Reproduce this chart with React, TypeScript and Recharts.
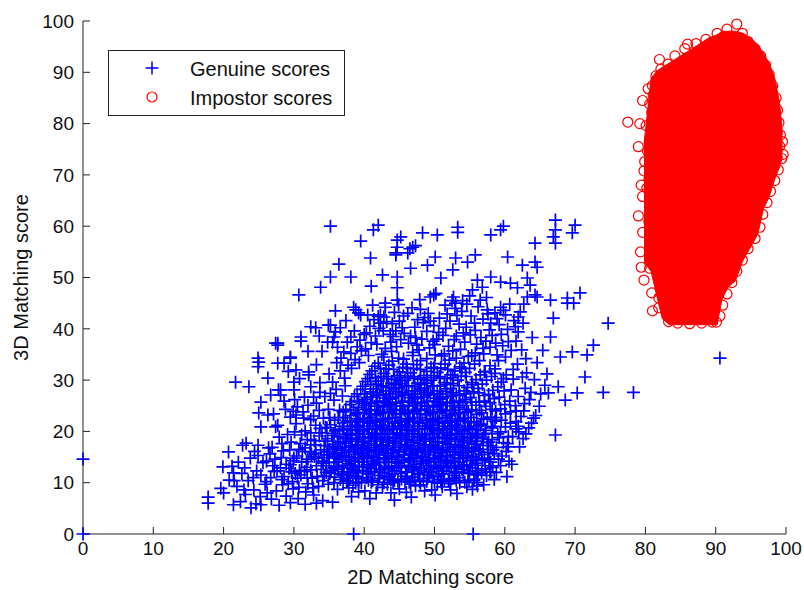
import { ComposedChart, Scatter, Area, XAxis, YAxis, Legend } from 'recharts';

const FONT = '"Liberation Sans", Arial, Helvetica, sans-serif';

const xTicks = [0, 10, 20, 30, 40, 50, 60, 70, 80, 90, 100];
const yTicks = [0, 10, 20, 30, 40, 50, 60, 70, 80, 90, 100];

// genuine scores, sparse points read one by one
const genuineSparse: [number, number][] = [
  [35.2, 60.0], [42.0, 60.2], [41.3, 59.3], [39.5, 57.1], [44.7, 57.3], [36.4, 52.6], [35.2, 50.1], [38.1, 50.1],
  [33.8, 48.1], [30.7, 46.6], [40.9, 53.8], [42.6, 50.5], [41.0, 48.3], [44.5, 54.8], [44.7, 50.1],
  [45.2, 57.9], [48.3, 58.7], [50.4, 58.3], [53.3, 59.8], [53.3, 58.8], [58.0, 58.3], [59.4, 59.3], [59.8, 60.0],
  [67.2, 61.2], [67.2, 59.3], [66.9, 57.9], [70.0, 60.2], [69.6, 58.7], [67.2, 56.7], [64.3, 56.7], [46.9, 55.9],
  [47.3, 56.2], [46.5, 55.6], [46.2, 54.8], [50.1, 54.0], [49.0, 52.4], [53.0, 53.8], [54.7, 53.0], [55.8, 54.4],
  [60.4, 54.0], [62.5, 52.4], [64.3, 53.0], [64.6, 52.0], [46.6, 51.8], [52.6, 51.5], [50.9, 49.9], [56.1, 49.5],
  [58.0, 50.1], [59.4, 49.1], [60.8, 48.9], [63.2, 49.9], [63.6, 48.5], [56.8, 48.1], [55.4, 47.6], [61.8, 48.0],
  [70.7, 47.0], [68.9, 46.0], [49.9, 46.6], [52.7, 46.2], [64.3, 46.6], [44.7, 55.9], [44.5, 54.4], [44.7, 48.0],
  [44.7, 45.6], [63.2, 46.2], [64.6, 46.2], [66.5, 45.6], [68.9, 45.0], [69.8, 45.0], [35.9, 43.5], [38.5, 44.2],
  [39.5, 42.7], [43.0, 45.0], [42.3, 42.7], [32.4, 40.4], [33.1, 40.2], [34.9, 40.7], [36.6, 40.2], [31.0, 38.4],
  [27.7, 37.2], [34.8, 37.4], [35.7, 38.4], [38.1, 38.4], [24.9, 34.3], [29.5, 34.5],
  [74.7, 41.1], [66.9, 42.1], [66.5, 38.4], [72.6, 36.8], [69.6, 35.5], [71.7, 34.9], [67.9, 34.5], [59.4, 44.2],
  [62.2, 43.3], [62.6, 41.1], [61.5, 40.4], [57.5, 43.7], [56.5, 45.6], [49.4, 46.2], [53.0, 45.0],
  [71.4, 30.6], [67.6, 28.7], [66.2, 27.5], [68.6, 26.1], [70.3, 27.5], [74.0, 27.6], [78.3, 27.6], [67.2, 19.3],
  [64.1, 22.6], [63.4, 20.7], [60.5, 17.0], [58.0, 14.0], [58.0, 12.1], [56.1, 11.5], [54.1, 11.9], [51.1, 9.2],
  [48.0, 9.6], [43.8, 8.0], [90.6, 34.3], [55.5, 0], [0, 14.6], [0, 0], [38.5, 0], [35.5, 6.2], [37.8, 9.0],
  [17.8, 7.2], [17.8, 6.0], [20.0, 8.0], [21.4, 5.7], [23.9, 5.1], [25.3, 5.7], [19.9, 13.1], [20.7, 16.0],
  [22.7, 17.3], [24.9, 17.3], [21.7, 29.6], [23.6, 28.7], [25.3, 25.7], [25.0, 23.6], [26.3, 23.2], [25.3, 20.9],
  [27.7, 21.2], [24.9, 32.6], [25.0, 33.5], [27.7, 33.3], [29.5, 34.3], [30.3, 32.0], [32.1, 31.6], [28.1, 28.1],
  [30.0, 28.1], [32.4, 28.7], [32.8, 26.7], [30.5, 24.8], [30.3, 23.2], [31.4, 22.6], [27.7, 36.8], [31.0, 37.6],
  [21.4, 11.9], [27.4, 20.9], [27.4, 37.2], [28.6, 33.3], [27.8, 28.1], [28.1, 27.1], [30.0, 29.6], [29.5, 22.8],
  [32.1, 31.0], [35.2, 40.7], [35.5, 37.4], [35.9, 39.4], [37.1, 35.5], [37.6, 37.4], [38.8, 43.7], [39.2, 43.1],
  [40.5, 42.7], [42.3, 41.1], [43.0, 44.2], [42.8, 42.3], [33.2, 33.0], [34.0, 35.6], [36.1, 33.4], [35.0, 31.2],
  [33.7, 29.5], [34.4, 26.8], [36.0, 28.2], [31.6, 20.1], [23.2, 17.7],
];

// genuine scores, moderately dense parts around the core
const genuineMid: [number, number][] = [
  [22.4, 6.3], [26.8, 6.8], [28.9, 7.4], [30.6, 6.9], [32.8, 7.6], [34.1, 6.5], [27.5, 8.4], [29.9, 8.8],
  [31.7, 8.2], [24.3, 8.6], [21.9, 9.3], [23.5, 10.4], [25.9, 9.7], [26.7, 11.0], [24.7, 12.3], [22.6, 11.8],
  [25.6, 13.9], [27.3, 14.6], [23.8, 14.8], [21.2, 13.2], [28.5, 16.2], [26.4, 16.8], [29.6, 17.9], [31.1, 19.3],
  [27.9, 18.9], [30.3, 21.5], [32.4, 22.3], [33.6, 24.1], [34.5, 20.8], [33.1, 17.4], [26.1, 10.2], [28.1, 12.9],
  [30.8, 12.4], [32.6, 10.9], [29.2, 9.8], [25.2, 7.3], [23.1, 7.7], [20.8, 10.5], [19.6, 8.9], [30.0, 14.8],
  [31.8, 14.1], [34.7, 15.5], [32.3, 16.0],
  [38.1, 35.2], [40.2, 36.1], [42.5, 35.0], [44.6, 36.5], [46.9, 35.4], [49.3, 36.3], [51.4, 35.1], [53.7, 36.0],
  [55.8, 35.3], [57.9, 36.4], [39.4, 37.8], [41.6, 38.6], [43.8, 37.4], [45.7, 39.1], [48.2, 38.0], [50.6, 39.3],
  [52.8, 37.9], [55.1, 38.8], [57.3, 37.6], [59.5, 38.9], [40.8, 40.5], [43.2, 41.4], [45.4, 40.2], [47.6, 41.8],
  [49.9, 40.6], [52.2, 41.5], [54.5, 40.3], [56.9, 41.9], [59.2, 40.8], [61.3, 41.6], [44.3, 43.2], [46.8, 44.1],
  [49.1, 43.0], [51.5, 44.6], [53.9, 43.4], [56.2, 44.3], [58.6, 43.1], [60.7, 44.8], [47.9, 45.7], [50.2, 46.9],
  [52.5, 45.5], [55.0, 46.4],
  [58.6, 32.2], [60.1, 34.5], [61.8, 33.1], [59.7, 36.7], [62.4, 35.9], [63.1, 31.4], [61.2, 30.2], [62.9, 28.4],
  [64.2, 30.1], [63.5, 26.2], [65.1, 27.3], [62.7, 24.0], [64.4, 23.1], [61.9, 21.0], [63.0, 19.5], [60.4, 17.6],
  [62.1, 17.0], [59.6, 15.2], [61.0, 13.6], [58.8, 12.0], [60.3, 11.2], [57.0, 9.6], [55.4, 8.7], [53.2, 7.9],
  [50.1, 7.6], [46.7, 7.2], [44.3, 6.6], [40.8, 6.9], [38.2, 7.3], [63.9, 38.3], [65.4, 35.8], [64.6, 33.4],
  [66.0, 31.2], [65.7, 29.0],
  [24.6, 5.9], [27.9, 5.6], [29.5, 6.1], [31.6, 5.8], [33.2, 6.0], [22.9, 8.6], [26.2, 8.0], [28.4, 9.6],
  [30.7, 9.1], [21.5, 10.4], [24.2, 11.0], [27.2, 12.2], [29.7, 12.1], [22.1, 14.0], [24.9, 15.3], [26.1, 14.2],
  [28.2, 14.9], [26.9, 16.9], [29.4, 16.4], [30.9, 17.6], [32.4, 19.7], [29.1, 19.4], [31.3, 23.8], [33.1, 21.2],
  [28.8, 24.3], [30.1, 26.2], [32.0, 25.1], [33.7, 27.6], [34.9, 24.3], [35.7, 26.1], [36.5, 24.1], [34.2, 22.6],
  [35.5, 29.6], [37.2, 30.4], [36.6, 31.8], [38.2, 32.3], [37.3, 28.9], [38.7, 34.0], [39.6, 35.7], [36.2, 36.4],
  [38.6, 39.6], [40.3, 39.2], [41.8, 37.0], [42.7, 39.6], [44.1, 38.5], [46.3, 37.2], [47.2, 40.3], [48.6, 42.2],
  [50.3, 38.0], [51.6, 40.1], [53.2, 42.6], [54.1, 39.2], [56.0, 37.0], [57.8, 39.8], [58.9, 42.0], [60.5, 37.5],
  [61.9, 39.4], [60.1, 42.7], [62.7, 44.8], [57.4, 46.1], [54.6, 44.8], [45.6, 42.5], [41.2, 44.6], [37.4, 41.6],
  [33.6, 38.6], [32.0, 35.6], [30.8, 30.3], [29.2, 31.7], [26.3, 30.4], [26.7, 27.1], [28.6, 25.9], [27.1, 23.4],
  [59.1, 33.8], [61.2, 32.1], [60.2, 31.0], [62.5, 30.6], [63.7, 27.6], [61.9, 26.8], [62.8, 25.4], [64.9, 24.9],
  [63.8, 21.6], [61.1, 19.0], [62.6, 18.6], [60.6, 14.2], [59.4, 13.3], [58.5, 10.6], [56.1, 9.4], [54.6, 9.2],
  [52.3, 8.6], [48.6, 8.4], [46.0, 8.1], [41.7, 8.0], [39.2, 8.2],
  [39.0, 36.5], [41.0, 37.3], [43.0, 36.2], [45.2, 37.9], [47.5, 36.8], [49.8, 37.6], [52.0, 36.6], [54.3, 37.4],
  [56.6, 38.3], [58.7, 37.2], [40.0, 38.9], [42.1, 40.1], [44.5, 39.6], [46.6, 38.6], [48.9, 39.5], [51.2, 38.7],
  [53.5, 40.9], [55.8, 39.7], [58.0, 41.1], [60.4, 39.9], [42.0, 42.4], [44.0, 41.0], [46.2, 43.0], [48.4, 41.2],
  [50.7, 42.1], [52.9, 44.0], [55.2, 42.5], [57.6, 42.9], [59.8, 43.6], [61.9, 42.3],
  [28.3, 10.6], [30.5, 10.9], [32.7, 9.0], [34.3, 11.3], [29.5, 13.5], [31.5, 12.2], [33.5, 14.8], [30.7, 16.5],
  [32.9, 15.1], [34.5, 18.1], [31.9, 18.4], [33.7, 20.6], [35.1, 22.7], [30.1, 19.9], [28.3, 17.6], [27.0, 13.3],
  [25.3, 11.5], [23.0, 12.9], [24.4, 16.1], [26.6, 15.6],
  [39.3, 33.4], [40.6, 34.8], [43.9, 35.6], [45.6, 34.1], [47.8, 35.9], [50.1, 34.9], [52.6, 35.7], [54.8, 34.6],
  [57.0, 35.1], [58.9, 34.9], [60.9, 35.8], [61.6, 37.6], [63.0, 34.2], [57.1, 31.6], [59.8, 30.3], [60.9, 28.1],
  [61.6, 24.0], [62.0, 19.9], [43.7, 38.9], [47.3, 38.3], [50.0, 36.9], [53.1, 38.6], [56.9, 36.2], [58.2, 38.7],
  [41.4, 41.8], [45.0, 41.5], [49.4, 41.5], [51.8, 42.9], [55.7, 41.1], [54.0, 45.5], [48.0, 43.8], [44.9, 44.7],
  [37.7, 32.9], [36.9, 26.9], [35.2, 27.4], [33.2, 25.5], [31.5, 26.7], [29.9, 23.9], [32.8, 23.0], [36.7, 34.3],
];

// genuine scores, dense core
const genuineCore: [number, number][] = [
  [33.5, 9.3], [36.2, 8.7], [38.4, 9.5], [40.1, 8.4], [42.6, 9.1], [45.0, 8.8], [47.3, 9.4], [49.6, 8.6], [52.2, 9.8], [54.3, 10.1],
  [29.8, 10.2], [31.9, 10.9], [34.1, 10.4], [35.8, 11.1], [37.5, 10.3], [39.2, 10.8], [41.0, 10.1], [42.9, 11.0],
  [44.3, 10.4], [46.1, 10.9], [47.9, 10.2], [49.8, 11.2], [51.4, 10.5], [53.5, 11.0], [55.6, 10.7], [57.4, 11.4],
  [27.6, 12.3], [30.2, 11.8], [32.4, 12.5], [34.6, 12.0], [36.3, 12.6], [38.1, 11.9], [39.8, 12.4], [41.5, 12.1],
  [43.4, 12.7], [45.2, 11.8], [46.8, 12.5], [48.6, 12.0], [50.3, 12.8], [52.1, 12.2], [53.9, 12.6], [56.2, 12.3], [58.3, 13.0],
  [28.9, 13.6], [31.1, 14.0], [33.2, 13.3], [35.0, 13.9], [36.9, 13.4], [38.7, 14.1], [40.4, 13.5], [42.1, 13.9],
  [43.9, 13.2], [45.7, 14.0], [47.4, 13.6], [49.2, 14.2], [50.9, 13.4], [52.8, 14.1], [54.6, 13.5], [56.8, 14.3], [59.1, 14.6],
  [30.4, 15.2], [32.5, 15.5], [34.3, 14.9], [36.1, 15.6], [37.8, 15.0], [39.5, 15.7], [41.3, 15.1], [43.0, 15.8],
  [44.8, 15.2], [46.5, 15.6], [48.3, 15.0], [50.1, 15.9], [51.8, 15.3], [53.7, 15.8], [55.5, 15.1], [57.6, 15.9], [60.2, 16.1],
  [31.6, 16.8], [33.8, 16.4], [35.5, 17.0], [37.2, 16.3], [39.0, 16.9], [40.7, 16.5], [42.5, 17.1], [44.2, 16.4],
  [46.0, 17.0], [47.7, 16.6], [49.5, 17.2], [51.2, 16.5], [53.0, 17.1], [54.9, 16.7], [56.9, 17.3], [58.8, 16.9],
  [32.9, 18.2], [34.8, 18.6], [36.6, 18.0], [38.3, 18.7], [40.1, 18.1], [41.8, 18.8], [43.6, 18.2], [45.3, 18.9],
  [47.1, 18.3], [48.8, 18.7], [50.6, 18.0], [52.4, 18.8], [54.2, 18.3], [56.1, 18.9], [58.2, 18.4], [60.5, 19.0],
  [34.0, 19.7], [35.9, 20.1], [37.7, 19.5], [39.4, 20.2], [41.2, 19.6], [42.9, 20.3], [44.7, 19.7], [46.4, 20.2],
  [48.2, 19.5], [49.9, 20.4], [51.7, 19.8], [53.5, 20.3], [55.4, 19.6], [57.3, 20.2], [59.4, 19.9], [61.6, 20.5],
  [35.2, 21.3], [37.0, 21.7], [38.8, 21.1], [40.5, 21.8], [42.3, 21.2], [44.0, 21.9], [45.8, 21.3], [47.6, 21.8],
  [49.3, 21.1], [51.1, 21.7], [52.9, 21.2], [54.8, 21.9], [56.7, 21.4], [58.6, 22.0], [60.8, 21.6],
  [36.3, 22.7], [38.1, 23.1], [39.9, 22.5], [41.6, 23.2], [43.4, 22.6], [45.1, 23.3], [46.9, 22.7], [48.7, 23.2],
  [50.4, 22.5], [52.2, 23.1], [54.1, 22.6], [56.0, 23.3], [58.0, 22.8], [60.1, 23.4], [62.3, 22.9],
  [37.4, 24.3], [39.2, 24.7], [41.0, 24.1], [42.8, 24.8], [44.5, 24.2], [46.3, 24.9], [48.0, 24.3], [49.8, 24.8],
  [51.6, 24.1], [53.4, 24.7], [55.3, 24.2], [57.3, 24.9], [59.4, 24.4], [61.5, 25.0],
  [38.2, 25.8], [40.0, 26.2], [41.8, 25.6], [43.6, 26.3], [45.4, 25.7], [47.2, 26.4], [48.9, 25.8], [50.7, 26.3],
  [52.5, 25.6], [54.4, 26.2], [56.4, 25.7], [58.5, 26.4], [60.7, 25.9],
  [39.0, 27.3], [40.9, 27.7], [42.7, 27.1], [44.5, 27.8], [46.3, 27.2], [48.1, 27.9], [49.9, 27.3], [51.7, 27.8],
  [53.6, 27.1], [55.6, 27.7], [57.7, 27.2], [59.9, 27.9],
  [39.8, 28.8], [41.7, 29.2], [43.5, 28.6], [45.4, 29.3], [47.2, 28.7], [49.0, 29.4], [50.8, 28.8], [52.7, 29.3],
  [54.7, 28.6], [56.8, 29.2], [59.0, 28.7],
  [40.5, 30.3], [42.4, 30.7], [44.3, 30.1], [46.2, 30.8], [48.0, 30.2], [49.9, 30.9], [51.8, 30.3], [53.8, 30.8],
  [55.9, 30.1], [58.1, 30.7],
  [41.1, 31.8], [43.1, 32.2], [45.0, 31.6], [47.0, 32.3], [48.9, 31.7], [50.9, 32.4], [52.9, 31.8], [55.0, 32.3], [57.2, 31.7],
  [42.0, 33.3], [44.0, 33.7], [46.0, 33.1], [48.0, 33.8], [50.0, 33.2], [52.1, 33.9], [54.2, 33.3], [56.4, 33.8],
  [37.0, 9.9], [39.6, 10.0], [41.9, 9.6], [44.1, 10.0], [46.6, 9.7], [48.9, 10.3], [51.0, 9.9],
  [36.9, 11.5], [38.9, 11.3], [40.6, 11.7], [42.2, 11.4], [44.0, 11.6], [45.9, 11.3], [47.6, 11.6], [49.2, 11.5],
  [51.0, 11.7], [52.8, 11.4], [54.8, 11.8],
  [37.6, 12.9], [39.3, 13.1], [41.0, 12.8], [42.9, 13.0], [44.6, 12.9], [46.3, 13.1], [48.1, 12.8], [49.9, 13.0],
  [51.7, 12.9], [53.4, 13.1], [55.4, 12.9],
  [36.4, 14.6], [38.2, 14.4], [40.0, 14.7], [41.8, 14.5], [43.5, 14.6], [45.3, 14.4], [47.0, 14.7], [48.8, 14.5],
  [50.6, 14.6], [52.3, 14.4], [54.1, 14.7], [56.0, 14.5],
  [34.8, 16.0], [36.7, 15.8], [38.5, 16.1], [40.3, 15.9], [42.0, 16.1], [43.8, 15.8], [45.6, 16.1], [47.3, 15.9],
  [49.1, 16.1], [50.8, 15.8], [52.6, 16.1], [54.4, 15.9], [56.3, 16.1],
  [35.6, 17.5], [37.4, 17.7], [39.2, 17.4], [41.0, 17.6], [42.7, 17.4], [44.5, 17.7], [46.2, 17.5], [48.0, 17.6],
  [49.8, 17.4], [51.6, 17.7], [53.4, 17.5], [55.3, 17.6], [57.5, 17.8],
  [36.2, 19.0], [38.0, 19.2], [39.8, 18.9], [41.5, 19.1], [43.3, 18.9], [45.1, 19.2], [46.8, 19.0], [48.6, 19.1],
  [50.4, 18.9], [52.1, 19.2], [53.9, 19.0], [55.8, 19.1],
  [37.1, 20.6], [38.9, 20.8], [40.7, 20.5], [42.4, 20.7], [44.2, 20.6], [46.0, 20.8], [47.8, 20.5], [49.5, 20.7],
  [51.3, 20.5], [53.1, 20.8], [55.0, 20.6],
  [38.0, 22.1], [39.8, 22.0], [41.6, 22.2], [43.4, 21.9], [45.2, 22.1], [47.0, 22.0], [48.8, 22.2], [50.6, 21.9],
  [52.4, 22.1], [54.3, 22.0],
  [39.0, 23.6], [40.8, 23.4], [42.6, 23.7], [44.4, 23.5], [46.2, 23.6], [48.0, 23.4], [49.8, 23.7], [51.6, 23.5], [53.5, 23.6],
  [40.1, 25.1], [41.9, 24.9], [43.7, 25.2], [45.5, 25.0], [47.3, 25.1], [49.1, 24.9], [50.9, 25.2], [52.8, 25.0],
  [41.2, 26.7], [43.1, 26.5], [44.9, 26.8], [46.7, 26.6], [48.5, 26.7], [50.4, 26.5], [52.3, 26.8],
];

// genuine scores, second pass over the densest part
const genuineCore2: [number, number][] = [
  [32.0, 9.8], [34.9, 9.7], [38.8, 9.9], [43.3, 9.7], [45.8, 10.2], [50.4, 9.9], [53.1, 10.4], [56.0, 10.0],
  [28.6, 11.2], [31.0, 11.5], [33.3, 11.2], [35.1, 11.8], [37.8, 11.4], [40.3, 11.0], [43.6, 11.3], [46.9, 11.1],
  [50.6, 11.3], [53.0, 11.9], [55.9, 11.6], [57.9, 12.1],
  [29.3, 12.8], [31.8, 13.0], [33.9, 12.6], [35.7, 12.9], [38.4, 12.6], [40.6, 13.0], [42.3, 12.5], [44.9, 13.3],
  [47.0, 12.9], [49.5, 12.6], [51.3, 13.2], [53.0, 12.8], [55.1, 13.4], [57.2, 12.7],
  [29.9, 14.3], [32.0, 14.6], [34.0, 14.2], [37.4, 14.2], [39.2, 14.8], [41.1, 14.2], [42.9, 14.8], [44.4, 14.1],
  [46.3, 14.5], [48.0, 14.2], [49.9, 14.8], [51.6, 14.2], [53.4, 14.8], [55.2, 14.3], [57.8, 14.6],
  [31.2, 16.1], [33.1, 15.7], [35.8, 15.1], [37.9, 15.9], [39.8, 15.2], [41.6, 16.0], [43.3, 15.3], [45.0, 16.0],
  [46.8, 15.3], [48.6, 16.0], [50.5, 15.2], [52.2, 16.0], [54.0, 15.3], [55.8, 16.2], [58.5, 15.6],
  [32.4, 17.4], [34.3, 17.2], [36.2, 16.7], [38.2, 17.2], [39.9, 16.7], [41.7, 17.3], [43.4, 16.7], [45.2, 17.3],
  [47.0, 16.7], [48.7, 17.3], [50.4, 16.8], [52.2, 17.4], [54.0, 16.9], [56.0, 17.5], [58.0, 17.2], [59.8, 17.8],
  [33.6, 19.1], [35.4, 19.2], [37.3, 18.6], [39.1, 19.4], [40.9, 18.6], [42.6, 19.4], [44.4, 18.6], [46.1, 19.5],
  [47.9, 18.8], [49.7, 19.4], [51.4, 18.6], [53.2, 19.5], [55.1, 18.7], [57.0, 19.4], [59.2, 18.8],
  [34.7, 20.7], [36.5, 20.4], [38.3, 21.0], [40.0, 20.4], [41.8, 21.0], [43.6, 20.4], [45.4, 21.0], [47.2, 20.4],
  [49.0, 21.0], [50.7, 20.3], [52.5, 21.0], [54.3, 20.4], [56.2, 21.0], [58.1, 20.7], [60.1, 20.9],
  [35.8, 22.2], [37.6, 21.8], [39.4, 22.4], [41.2, 21.8], [43.0, 22.4], [44.8, 21.8], [46.5, 22.4], [48.3, 21.7],
  [50.1, 22.3], [51.9, 21.8], [53.7, 22.4], [55.6, 21.9], [57.5, 22.4], [59.5, 22.2], [61.6, 21.9],
  [37.0, 23.8], [38.8, 23.4], [40.6, 24.1], [42.3, 23.5], [44.1, 24.1], [45.9, 23.5], [47.6, 24.1], [49.4, 23.5],
  [51.2, 24.0], [53.0, 23.4], [54.8, 23.9], [56.7, 23.6], [58.7, 24.0], [60.8, 23.8],
  [38.0, 25.2], [39.7, 25.5], [41.5, 24.9], [43.3, 25.5], [45.1, 24.9], [46.9, 25.6], [48.6, 25.0], [50.4, 25.6],
  [52.2, 25.0], [54.0, 25.6], [55.9, 25.1], [57.9, 25.6], [60.0, 25.2],
  [38.6, 26.8], [40.4, 26.6], [42.2, 27.1], [44.0, 26.5], [45.8, 27.1], [47.6, 26.5], [49.4, 27.1], [51.2, 26.5],
  [53.1, 27.0], [55.1, 26.6], [57.1, 27.0], [59.2, 26.7],
  [39.5, 28.2], [41.3, 28.3], [43.1, 27.9], [44.9, 28.5], [46.8, 27.9], [48.6, 28.5], [50.4, 27.9], [52.3, 28.4],
  [54.2, 27.9], [56.2, 28.4], [58.3, 28.0],
  [40.2, 29.7], [42.0, 29.8], [43.9, 29.4], [45.8, 30.0], [47.6, 29.4], [49.5, 30.0], [51.4, 29.5], [53.3, 30.0],
  [55.3, 29.5], [57.4, 30.0], [59.5, 29.6],
  [40.8, 31.1], [42.8, 31.3], [44.7, 30.9], [46.6, 31.4], [48.5, 30.9], [50.4, 31.5], [52.3, 31.0], [54.4, 31.5],
  [56.5, 31.0], [58.6, 31.3],
  [41.5, 32.7], [43.5, 32.9], [45.5, 32.5], [47.5, 33.0], [49.5, 32.5], [51.5, 33.1], [53.6, 32.6], [55.7, 33.1], [57.9, 32.8],
  [42.8, 34.5], [44.9, 34.3], [46.9, 34.8], [48.9, 34.2], [51.0, 34.7], [53.1, 34.3], [55.3, 34.8],
];

// genuine scores, third pass filling the gaps of the core
const genuineCore3: [number, number][] = [
  [36.6, 10.6], [38.0, 10.9], [40.6, 10.5], [42.0, 10.8], [43.8, 10.6], [45.3, 10.7], [47.2, 10.5], [49.0, 10.8],
  [50.9, 10.6], [52.5, 10.8], [54.9, 10.5],
  [35.3, 12.3], [37.1, 12.1], [39.0, 12.3], [40.9, 12.2], [42.6, 12.0], [44.3, 12.3], [46.0, 12.1], [47.9, 12.3],
  [49.5, 12.1], [51.2, 12.3], [53.0, 12.1], [55.0, 12.3],
  [34.2, 13.8], [36.0, 14.0], [37.9, 13.7], [39.7, 14.0], [41.4, 13.7], [43.1, 14.0], [44.9, 13.8], [46.6, 14.1],
  [48.4, 13.8], [50.2, 14.0], [51.9, 13.8], [53.6, 14.0], [55.8, 13.8],
  [35.0, 15.4], [36.9, 15.3], [38.7, 15.5], [40.5, 15.3], [42.2, 15.5], [44.0, 15.3], [45.7, 15.5], [47.5, 15.3],
  [49.3, 15.5], [51.0, 15.3], [52.9, 15.5], [54.7, 15.3], [56.7, 15.5],
  [35.9, 17.1], [37.8, 16.9], [39.6, 17.2], [41.4, 16.9], [43.1, 17.2], [44.9, 16.9], [46.6, 17.2], [48.4, 16.9],
  [50.1, 17.2], [51.9, 16.9], [53.7, 17.2], [55.6, 16.9],
  [37.0, 18.7], [38.8, 18.5], [40.6, 18.8], [42.3, 18.5], [44.1, 18.8], [45.8, 18.5], [47.6, 18.8], [49.3, 18.5],
  [51.1, 18.8], [52.9, 18.5], [54.7, 18.8], [56.8, 18.6],
  [38.1, 20.3], [39.8, 20.1], [41.6, 20.4], [43.3, 20.1], [45.1, 20.4], [46.9, 20.1], [48.6, 20.4], [50.4, 20.1],
  [52.2, 20.4], [54.0, 20.1], [56.0, 20.3],
  [39.1, 21.9], [40.9, 21.6], [42.7, 22.0], [44.4, 21.6], [46.2, 22.0], [47.9, 21.6], [49.7, 22.0], [51.5, 21.6],
  [53.3, 22.0], [55.2, 21.7],
  [40.0, 23.7], [41.8, 23.4], [43.6, 23.8], [45.3, 23.4], [47.1, 23.8], [48.9, 23.4], [50.7, 23.8], [52.5, 23.4], [54.3, 23.7],
  [40.9, 25.4], [42.7, 25.1], [44.5, 25.5], [46.3, 25.1], [48.1, 25.5], [49.9, 25.1], [51.7, 25.5], [53.6, 25.1],
  [41.7, 27.0], [43.5, 26.7], [45.3, 27.1], [47.1, 26.7], [48.9, 27.1], [50.7, 26.7], [52.6, 27.1],
  [42.4, 28.7], [44.2, 28.3], [46.0, 28.8], [47.9, 28.3], [49.7, 28.8], [51.6, 28.3],
  [43.2, 30.3], [45.1, 29.9], [47.0, 30.4], [48.9, 29.9], [50.8, 30.4],
];

// genuine scores, fourth pass across the core in the other direction
const genuineCore4: [number, number][] = [
  [35.7, 10.0], [37.6, 10.3], [39.2, 10.1], [41.2, 10.4], [42.8, 10.0], [44.8, 10.3], [46.4, 10.1], [48.4, 10.4],
  [50.0, 10.1], [52.0, 10.3], [53.6, 10.0], [55.6, 10.4],
  [35.1, 11.9], [36.8, 11.7], [38.7, 12.0], [40.4, 11.8], [42.3, 12.0], [44.0, 11.7], [45.9, 12.0], [47.7, 11.8],
  [49.4, 12.0], [51.3, 11.7], [53.1, 12.0], [54.8, 11.8], [56.7, 11.9],
  [34.6, 13.3], [36.3, 13.2], [38.1, 13.4], [39.9, 13.2], [41.7, 13.4], [43.5, 13.2], [45.3, 13.4], [47.1, 13.2],
  [48.9, 13.4], [50.6, 13.2], [52.4, 13.4], [54.2, 13.2], [56.1, 13.4], [57.8, 13.3],
  [35.7, 14.8], [37.5, 15.0], [39.2, 14.8], [41.0, 15.0], [42.8, 14.8], [44.6, 15.0], [46.4, 14.8], [48.1, 15.0],
  [49.9, 14.8], [51.7, 15.0], [53.5, 14.8], [55.3, 15.0], [57.1, 14.8],
  [35.1, 16.5], [36.9, 16.3], [38.7, 16.5], [40.5, 16.3], [42.2, 16.5], [44.0, 16.3], [45.8, 16.5], [47.6, 16.3],
  [49.4, 16.5], [51.1, 16.3], [52.9, 16.5], [54.7, 16.3], [56.5, 16.5], [58.3, 16.4],
  [36.3, 17.9], [38.1, 18.1], [39.8, 17.9], [41.6, 18.1], [43.4, 17.9], [45.2, 18.1], [47.0, 17.9], [48.7, 18.1],
  [50.5, 17.9], [52.3, 18.1], [54.1, 17.9], [55.9, 18.1], [57.7, 17.9],
  [35.7, 19.6], [37.5, 19.4], [39.3, 19.6], [41.1, 19.4], [42.9, 19.6], [44.6, 19.4], [46.4, 19.6], [48.2, 19.4],
  [50.0, 19.6], [51.8, 19.4], [53.6, 19.6], [55.4, 19.4], [57.2, 19.6], [59.0, 19.5],
  [36.9, 21.0], [38.7, 21.2], [40.4, 21.0], [42.2, 21.2], [44.0, 21.0], [45.8, 21.2], [47.6, 21.0], [49.4, 21.2],
  [51.2, 21.0], [52.9, 21.2], [54.7, 21.0], [56.5, 21.2], [58.3, 21.0],
  [37.3, 22.7], [39.1, 22.5], [40.9, 22.7], [42.7, 22.5], [44.5, 22.7], [46.3, 22.5], [48.0, 22.7], [49.8, 22.5],
  [51.6, 22.7], [53.4, 22.5], [55.2, 22.7], [57.0, 22.5], [58.8, 22.7],
  [38.5, 24.1], [40.3, 24.3], [42.1, 24.1], [43.9, 24.3], [45.7, 24.1], [47.5, 24.3], [49.2, 24.1], [51.0, 24.3],
  [52.8, 24.1], [54.6, 24.3], [56.4, 24.1], [58.2, 24.3],
  [39.2, 25.9], [41.0, 25.7], [42.8, 25.9], [44.6, 25.7], [46.4, 25.9], [48.2, 25.7], [50.0, 25.9], [51.8, 25.7],
  [53.5, 25.9], [55.3, 25.7], [57.1, 25.9],
  [40.1, 27.3], [41.9, 27.5], [43.7, 27.3], [45.5, 27.5], [47.3, 27.3], [49.1, 27.5], [50.9, 27.3], [52.7, 27.5],
  [54.5, 27.3], [56.3, 27.5],
  [40.9, 29.1], [42.7, 28.9], [44.5, 29.1], [46.3, 28.9], [48.1, 29.1], [49.9, 28.9], [51.7, 29.1], [53.5, 28.9], [55.4, 29.1],
  [41.6, 30.5], [43.4, 30.7], [45.2, 30.5], [47.1, 30.7], [48.9, 30.5], [50.7, 30.7], [52.6, 30.5], [54.5, 30.7],
  [42.3, 32.3], [44.2, 32.1], [46.1, 32.3], [48.0, 32.1], [49.9, 32.3], [51.9, 32.1], [53.9, 32.3],
];

// impostor scores: outline of the dense cloud (x, lower y, upper y)
const blobX = [79.8, 80.8, 81.6, 82.4, 83.4, 85.0, 87.0, 89.0, 90.2, 90.9, 91.8, 92.8, 93.9, 95.0, 96.0, 96.8, 97.6, 98.4, 99.1, 99.5];
const blobLow = [53.0, 51.2, 46.5, 42.0, 40.8, 40.8, 40.8, 40.8, 40.8, 45.8, 48.2, 49.3, 53.4, 56.0, 58.5, 63.4, 65.7, 69.2, 71.6, 73.5];
const blobHigh = [76.0, 88.8, 90.2, 91.0, 91.8, 93.2, 94.9, 96.7, 97.3, 98.0, 98.0, 98.0, 97.6, 96.7, 95.3, 93.7, 91.8, 88.9, 84.0, 78.0];

// impostor scores at the edge of the cloud
const impostorEdge: [number, number][] = [
  [93.0, 99.4], [91.6, 98.4], [90.2, 97.6], [88.6, 96.4], [87.2, 95.6], [85.6, 94.6], [84.2, 93.2], [83.2, 91.6],
  [82.2, 90.6], [81.5, 89.3], [81.0, 87.4], [81.1, 85.6], [80.6, 83.8], [80.9, 82.2], [77.5, 80.3], [79.2, 80.0],
  [80.1, 79.6], [80.6, 77.0], [80.3, 74.6], [79.9, 72.6], [79.8, 70.8], [80.5, 69.2], [80.2, 67.4], [79.6, 65.8],
  [80.9, 64.2], [80.5, 60.9], [79.6, 58.8], [80.8, 57.2], [81.8, 55.4], [80.9, 53.6], [79.4, 52.0], [80.6, 51.8],
  [82.5, 50.4], [82.4, 48.1], [81.9, 46.0], [81.9, 44.1], [83.3, 41.4], [84.6, 41.1], [86.3, 41.0], [88.0, 41.1],
  [89.5, 41.3], [90.1, 41.3], [90.6, 42.5],
  [91.0, 44.6], [91.6, 46.8], [92.3, 49.0], [93.0, 51.2], [93.8, 53.4], [94.6, 55.6], [95.6, 57.6], [96.3, 59.8],
  [96.7, 62.3], [97.3, 64.6], [97.8, 66.8], [98.4, 68.9], [98.9, 71.0], [99.4, 73.2], [99.6, 74.0], [99.1, 75.6],
  [99.2, 77.8], [99.0, 80.2], [98.8, 82.6], [98.6, 85.0], [98.1, 87.4], [97.6, 89.6], [97.1, 91.4], [96.4, 93.2],
  [95.6, 94.6], [94.6, 96.0], [93.8, 97.6],
  [79.0, 62.0], [79.3, 55.0], [79.8, 49.5], [80.9, 47.0], [81.0, 43.5], [79.4, 68.0], [79.0, 75.5], [79.6, 84.5],
  [80.4, 86.8], [82.0, 92.5], [86.0, 95.5], [98.3, 78.5], [99.5, 76.5],
];

const genuine = [...genuineSparse, ...genuineMid, ...genuineCore, ...genuineCore2, ...genuineCore3, ...genuineCore4].map(
  ([x, y]) => ({ x, y }),
);
const impostor = impostorEdge.map(([x, y]) => ({ x, y }));
const blob = blobX.map((x, i) => ({ x, band: [blobLow[i], blobHigh[i]] }));

const BLUE = '#0000ff';
const RED = '#ff0000';

function PlusMarker(props: any) {
  const { cx, cy } = props;
  if (cx == null || cy == null) return null;
  return <path d={`M${cx - 6.5},${cy}H${cx + 6.5}M${cx},${cy - 6.5}V${cy + 6.5}`} stroke={BLUE} strokeWidth={1.7} fill="none" />;
}

function CircleMarker(props: any) {
  const { cx, cy } = props;
  if (cx == null || cy == null) return null;
  return <circle cx={cx} cy={cy} r={5} stroke={RED} strokeWidth={1.2} fill="none" />;
}

function LegendBox() {
  return (
    <svg width={238} height={68} style={{ display: 'block' }}>
      <rect x={0.5} y={0.5} width={236} height={65} fill="#fff" stroke="#222" strokeWidth={1} />
      <path d="M37.5,18H50.5M44,11.5V24.5" stroke={BLUE} strokeWidth={1.5} />
      <text x={82} y={26} fontSize={20} fontFamily={FONT} fill="#111">Genuine scores</text>
      <circle cx={44} cy={47} r={5} stroke={RED} strokeWidth={1.2} fill="none" />
      <text x={82} y={55} fontSize={20} fontFamily={FONT} fill="#111">Impostor scores</text>
    </svg>
  );
}

function XLabel(props: any) {
  const vb = props.viewBox || { x: 83, y: 534, width: 703, height: 56 };
  return (
    <text x={vb.x + vb.width / 2 - 4} y={vb.y + 50} textAnchor="middle" fontSize={20} fontFamily={FONT} fill="#111">
      2D Matching score
    </text>
  );
}

function YLabel(props: any) {
  const vb = props.viewBox || { x: 0, y: 21, width: 83, height: 513 };
  const x = vb.x + 28;
  const y = vb.y + vb.height / 2;
  return (
    <text x={x} y={y} transform={`rotate(-90 ${x} ${y})`} textAnchor="middle" fontSize={20} fontFamily={FONT} fill="#111">
      3D Matching score
    </text>
  );
}

export default function App() {
  const tickStyle = { fill: '#111', fontSize: 19, fontFamily: FONT };
  return (
    <div style={{ position: 'absolute', left: 0, top: 0, background: '#fff' }}>
      <ComposedChart width={804} height={590} data={blob} margin={{ top: 21, right: 18, bottom: 0, left: 0 }}>
        <XAxis
          type="number"
          dataKey="x"
          domain={[0, 100]}
          ticks={xTicks}
          height={56}
          tickSize={-7}
          tickMargin={15}
          tick={tickStyle}
          axisLine={{ stroke: '#222' }}
          tickLine={{ stroke: '#222' }}
          label={{ value: '2D Matching score', content: XLabel }}
        />
        <YAxis
          type="number"
          dataKey="y"
          domain={[0, 100]}
          ticks={yTicks}
          width={83}
          tickSize={-7}
          tickMargin={16}
          tick={tickStyle}
          axisLine={{ stroke: '#222' }}
          tickLine={{ stroke: '#222' }}
          label={{ value: '3D Matching score', content: YLabel }}
        />
        <Legend
          layout="vertical"
          align="center"
          verticalAlign="middle"
          wrapperStyle={{ left: 108, top: 50, width: 238 }}
          content={LegendBox}
        />
        <Scatter name="Genuine scores" data={genuine} shape={PlusMarker} isAnimationActive={false} />
        <Area
          dataKey="band"
          type="linear"
          stroke={RED}
          strokeWidth={1}
          fill={RED}
          fillOpacity={1}
          dot={false}
          activeDot={false}
          isAnimationActive={false}
        />
        <Scatter name="Impostor scores" data={impostor} shape={CircleMarker} isAnimationActive={false} />
      </ComposedChart>
    </div>
  );
}
